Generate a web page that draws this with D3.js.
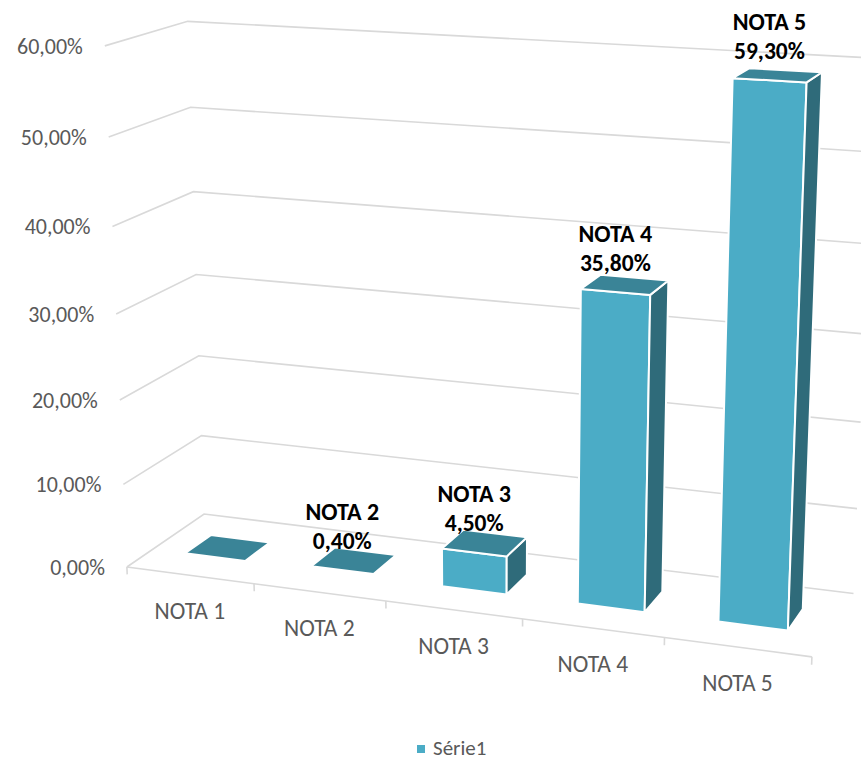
<!DOCTYPE html>
<html>
<head>
<meta charset="utf-8">
<script src="https://cdn.jsdelivr.net/npm/d3@7"></script>
<style>
  body { margin: 0; background: #fff; }
  text { font-family: Carlito, Calibri, Lato, sans-serif; }
</style>
</head>
<body>
<div id="chart"></div>
<script>
// data
const categories = ['NOTA 1', 'NOTA 2', 'NOTA 3', 'NOTA 4', 'NOTA 5'];
const values = [0, 0.4, 4.5, 35.8, 59.3];
const yTicks = [0, 10, 20, 30, 40, 50, 60];
const seriesName = 'Série1';

const width = 861, height = 760;

// world size (floor length, depth, wall height)
const L = 268.9, D = 67.1, H = 200.8;

// camera: yaw / pitch, focal length, principal point, translation
const yaw = 20 * Math.PI / 180, pitch = 16.4 * Math.PI / 180;
const f = 2600, cx = 494, cy = 404;
const T = [-141.2, 62.7, 1000];
const ex = [Math.cos(yaw), Math.sin(yaw) * Math.sin(pitch), -Math.sin(yaw) * Math.cos(pitch)];
const ey = [0, -Math.cos(pitch), -Math.sin(pitch)];
const ez = [Math.sin(yaw), -Math.cos(yaw) * Math.sin(pitch), Math.cos(yaw) * Math.cos(pitch)];

function project(p) {
    const c = [0, 1, 2].map(k => T[k] + p[0] * ex[k] + p[1] * ey[k] + p[2] * ez[k]);
    return [cx + f * c[0] / c[2], cy + f * c[1] / c[2]];
}

const locale = d3.formatLocale({decimal: ',', thousands: '.', grouping: [3], currency: ['', '€']});
const fmt = v => locale.format('.2f')(v) + '%';

// scales
const xScale = d3.scaleBand()
    .domain(categories)
    .range([0, L])
    .paddingInner(0.52)
    .paddingOuter(0.26);

const yScale = d3.scaleLinear()
    .domain([0, 60])
    .range([0, H]);

const zFront = 0.325 * D, zBack = zFront + 0.34 * D;

const svg = d3.select('#chart').append('svg')
    .attr('width', width)
    .attr('height', height);

const line = d3.line();
const grid = '#d9d9d9';

// walls: left + back gridlines
svg.append('g').selectAll('path')
    .data(yTicks)
    .join('path')
    .attr('d', t => line([project([0, yScale(t), 0]), project([0, yScale(t), D]), project([L, yScale(t), D])]))
    .attr('fill', 'none')
    .attr('stroke', grid)
    .attr('stroke-width', 1.6);

// floor front edge + ticks
svg.append('path')
    .attr('d', line([project([0, 0, 0]), project([L, 0, 0])]))
    .attr('stroke', grid)
    .attr('stroke-width', 1.6)
    .attr('fill', 'none');

const step = xScale.step();
svg.append('g').selectAll('path')
    .data(d3.range(categories.length + 1))
    .join('path')
    .attr('d', i => line([project([i * step, 0, 0]), project([i * step, -3, 0])]))
    .attr('stroke', grid)
    .attr('stroke-width', 1.6);

// y labels
svg.append('g').selectAll('text')
    .data(yTicks)
    .join('text')
    .attr('x', t => project([0, yScale(t), 0])[0] - 22)
    .attr('y', t => project([0, yScale(t), 0])[1] + 8)
    .attr('text-anchor', 'end')
    .attr('font-size', 22)
    .attr('fill', '#595959')
    .text(fmt);

// category labels
svg.append('g').selectAll('text')
    .data(categories)
    .join('text')
    .attr('x', c => project([xScale(c) + xScale.bandwidth() / 2, 0, 0])[0])
    .attr('y', c => project([xScale(c) + xScale.bandwidth() / 2, 0, 0])[1] + 44)
    .attr('text-anchor', 'middle')
    .attr('font-size', 23.5)
    .attr('fill', '#595959')
    .text(c => c);

// bars
const bars = categories.map((c, i) => {
    const x0 = xScale(c), x1 = x0 + xScale.bandwidth(), y1 = yScale(values[i]);
    return {
        c, v: values[i], x0, x1, y1,
        front: [[x0, 0, zFront], [x1, 0, zFront], [x1, y1, zFront], [x0, y1, zFront]],
        side: [[x1, 0, zFront], [x1, 0, zBack], [x1, y1, zBack], [x1, y1, zFront]],
        top: [[x0, y1, zFront], [x1, y1, zFront], [x1, y1, zBack], [x0, y1, zBack]]
    };
});

const faces = [['front', '#4bacc6'], ['side', '#2f6b7a'], ['top', '#3a8497']];
const barG = svg.append('g').selectAll('g')
    .data(bars)
    .join('g');

faces.forEach(([k, col]) => {
    barG.filter(d => k === 'top' || d.y1 > 2)
        .append('path')
        .attr('d', d => line(d[k].map(project)) + 'Z')
        .attr('fill', col)
        .attr('stroke', '#fff')
        .attr('stroke-width', 2)
        .attr('stroke-linejoin', 'round');
});

// data labels
const lab = svg.append('g').selectAll('g')
    .data(bars.filter(d => d.v > 0))
    .join('g')
    .attr('transform', d => {
        const p = project([(d.x0 + d.x1) / 2, d.y1, zFront]);
        return 'translate(' + p[0] + ',' + p[1] + ')';
    });

lab.append('text')
    .attr('y', -50)
    .attr('text-anchor', 'middle')
    .attr('font-size', 24)
    .attr('font-weight', 'bold')
    .attr('fill', '#000')
    .text(d => d.c);

lab.append('text')
    .attr('y', -21)
    .attr('text-anchor', 'middle')
    .attr('font-size', 23.5)
    .attr('font-weight', 'bold')
    .attr('fill', '#000')
    .text(d => fmt(d.v));

// legend
const leg = svg.append('g').attr('transform', 'translate(417,745)');
leg.append('rect')
    .attr('width', 8)
    .attr('height', 8)
    .attr('fill', '#4bacc6');
leg.append('text')
    .attr('x', 16)
    .attr('y', 9.5)
    .attr('font-size', 21)
    .attr('fill', '#595959')
    .text(seriesName);
</script>
</body>
</html>
